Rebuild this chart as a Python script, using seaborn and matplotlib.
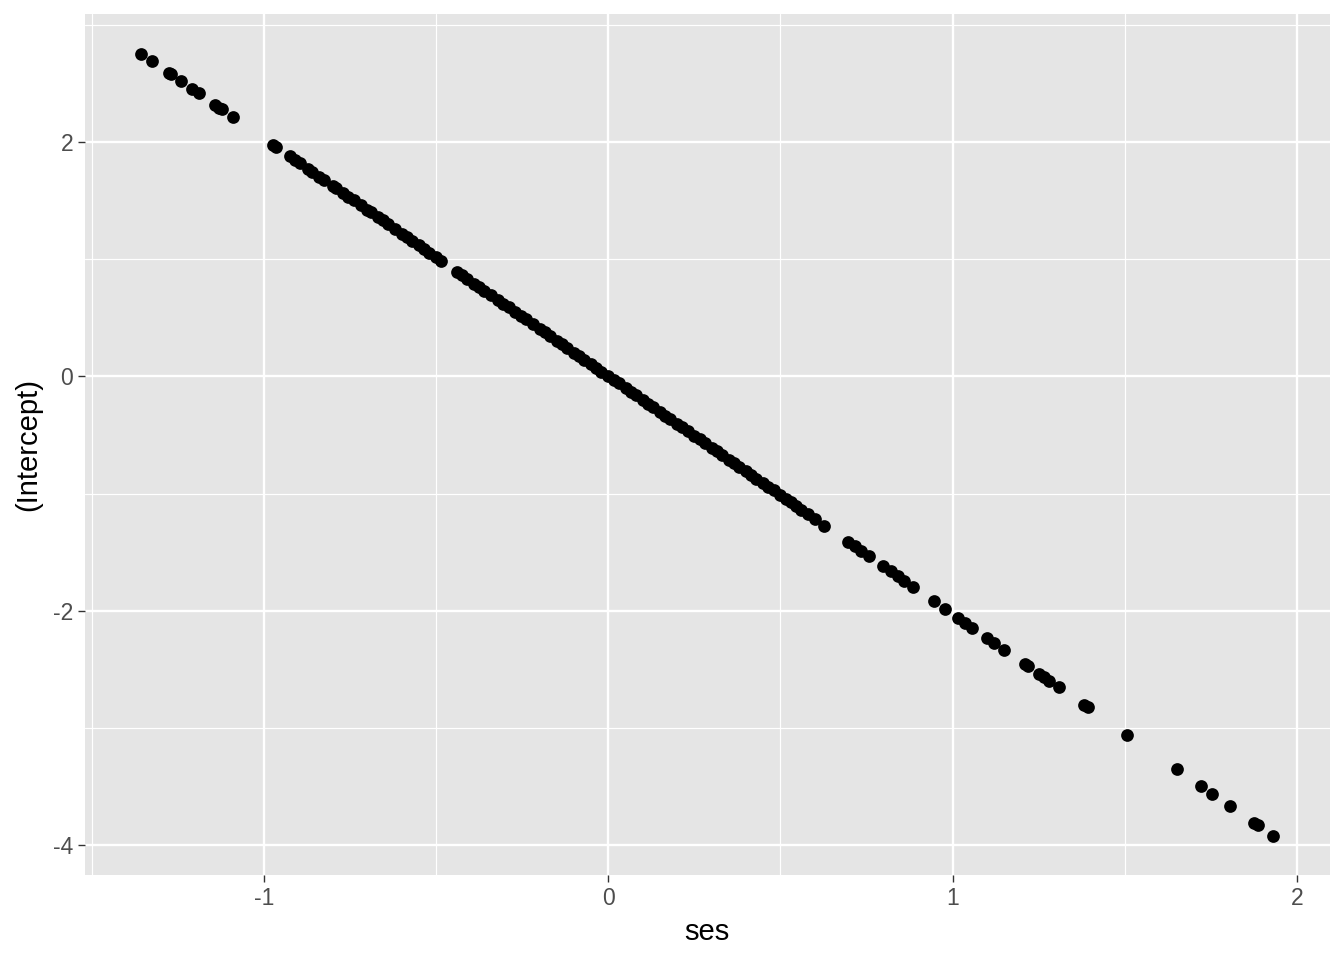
import matplotlib
matplotlib.use("Agg")
import matplotlib.pyplot as plt
from matplotlib.ticker import FixedLocator
import seaborn as sns
import pandas as pd

# random effects: ses slope vs (Intercept)
ses = [
    -1.357, -1.326, -1.277, -1.270, -1.241, -1.210, -1.190, -1.142, -1.130, -1.123, -1.091,
    -0.974, -0.965,
    -0.925, -0.91, -0.895, -0.872, -0.86, -0.84, -0.825, -0.80, -0.79, -0.77, -0.755, -0.74,
    -0.72, -0.70, -0.69, -0.67, -0.655, -0.64, -0.62, -0.60, -0.585, -0.57, -0.55, -0.535,
    -0.52, -0.50, -0.485,
    -0.44, -0.425, -0.41, -0.39, -0.375, -0.36, -0.34, -0.32, -0.305, -0.29, -0.27, -0.255,
    -0.24, -0.22, -0.20, -0.185, -0.17, -0.15, -0.135, -0.12, -0.10, -0.085, -0.07, -0.05,
    -0.035, -0.02, 0.0, 0.015, 0.03, 0.05, 0.065, 0.08, 0.10, 0.115, 0.13, 0.15, 0.165, 0.18,
    0.20, 0.215, 0.23, 0.25, 0.265, 0.28, 0.30, 0.315, 0.33, 0.35, 0.365, 0.38, 0.40, 0.415,
    0.43, 0.45, 0.465, 0.48, 0.50, 0.515, 0.53, 0.545, 0.56, 0.58, 0.60, 0.627,
    0.696, 0.715, 0.735, 0.757,
    0.798, 0.82, 0.84, 0.86, 0.885,
    0.946, 0.978, 1.015, 1.035, 1.056, 1.099, 1.120, 1.149, 1.210, 1.218, 1.250, 1.265,
    1.279, 1.308, 1.381, 1.392, 1.508, 1.651, 1.723, 1.755, 1.807, 1.877, 1.886, 1.932,
]
intercept = [
    2.755, 2.692, 2.592, 2.578, 2.519, 2.456, 2.416, 2.318, 2.294, 2.280, 2.215,
    1.977, 1.959,
    1.878, 1.847, 1.817, 1.770, 1.746, 1.705, 1.675, 1.624, 1.604, 1.563, 1.533, 1.502,
    1.462, 1.421, 1.401, 1.360, 1.330, 1.299, 1.259, 1.218, 1.188, 1.157, 1.117, 1.086,
    1.056, 1.015, 0.985,
    0.893, 0.863, 0.832, 0.792, 0.761, 0.731, 0.690, 0.650, 0.619, 0.589, 0.548, 0.518,
    0.487, 0.447, 0.406, 0.376, 0.345, 0.305, 0.274, 0.244, 0.203, 0.173, 0.142, 0.102,
    0.071, 0.041, 0.0, -0.030, -0.061, -0.102, -0.132, -0.162, -0.203, -0.233, -0.264,
    -0.305, -0.335, -0.365, -0.406, -0.436, -0.467, -0.508, -0.538, -0.568, -0.609, -0.639,
    -0.670, -0.711, -0.741, -0.771, -0.812, -0.842, -0.873, -0.914, -0.944, -0.974, -1.015,
    -1.045, -1.076, -1.106, -1.137, -1.177, -1.218, -1.273,
    -1.413, -1.451, -1.492, -1.537,
    -1.620, -1.665, -1.705, -1.746, -1.797,
    -1.920, -1.985, -2.060, -2.101, -2.144, -2.231, -2.274, -2.332, -2.456, -2.473, -2.538,
    -2.568, -2.596, -2.655, -2.803, -2.826, -3.061, -3.352, -3.498, -3.563, -3.668, -3.810,
    -3.829, -3.922,
]

x_ticks = [-1, 0, 1, 2]
y_ticks = [-4, -2, 0, 2]

df = pd.DataFrame({"ses": ses, "(Intercept)": intercept})

sns.set_theme(style="darkgrid", rc={
    "axes.facecolor": "#E5E5E5",
    "grid.color": "white",
    "axes.edgecolor": "#E5E5E5",
})
plt.rcParams["font.family"] = ["Liberation Sans", "DejaVu Sans"]
plt.rcParams["axes.unicode_minus"] = False

fig = plt.figure(figsize=(13.44, 9.6), dpi=100)
ax = fig.add_axes([0.063, 0.0885, 0.9266, 0.8965])

sns.scatterplot(data=df, x="ses", y="(Intercept)", ax=ax, color="black",
                s=84, linewidth=0, zorder=3)

xmin, xmax = min(ses), max(ses)
ymin, ymax = min(intercept), max(intercept)
xpad = (xmax - xmin) * 0.05
ypad = (ymax - ymin) * 0.05
ax.set_xlim(xmin - xpad, xmax + xpad)
ax.set_ylim(ymin - ypad, ymax + ypad)

ax.xaxis.set_major_locator(FixedLocator(x_ticks))
ax.yaxis.set_major_locator(FixedLocator(y_ticks))
ax.xaxis.set_minor_locator(FixedLocator([-1.5, -0.5, 0.5, 1.5]))
ax.yaxis.set_minor_locator(FixedLocator([-3, -1, 1, 3]))
ax.grid(which="major", color="white", linewidth=1.7)
ax.grid(which="minor", color="white", linewidth=0.85)

for s in ax.spines.values():
    s.set_visible(False)

ax.tick_params(axis="both", which="major", labelsize=16.5, labelcolor="#4D4D4D",
               length=5.3, width=1.0, color="#333333", pad=3, bottom=True, left=True)
ax.tick_params(axis="both", which="minor", length=0)

ax.set_xlabel("ses", fontsize=21, color="black", labelpad=6)
ax.set_ylabel("(Intercept)", fontsize=21, color="black", labelpad=8)

fig.savefig("out.png", dpi=100, facecolor="white")
